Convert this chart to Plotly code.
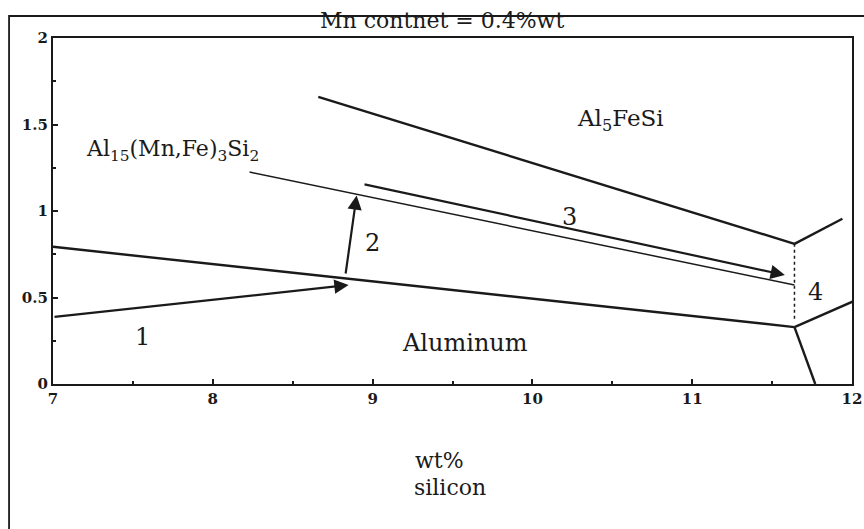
import plotly.graph_objects as go

# Phase boundary lines (wt% Si, wt% Fe)
al5_boundary_x = [8.66, 11.64]
al5_boundary_y = [1.66, 0.81]
al5_branch_x = [11.64, 11.94]
al5_branch_y = [0.81, 0.955]
al15_boundary_x = [8.23, 11.64]
al15_boundary_y = [1.225, 0.572]
liquidus_x = [7.0, 11.64]
liquidus_y = [0.793, 0.329]
eutectic_right_x = [11.64, 12.07]
eutectic_right_y = [0.329, 0.503]
eutectic_down_x = [11.64, 11.77]
eutectic_down_y = [0.329, 0.0]
dotted_x = [11.64, 11.64]
dotted_y = [0.81, 0.37]

# Solidification path arrows: (start x, start y, end x, end y)
arrow1 = (7.0, 0.387, 8.85, 0.572)
arrow2 = (8.83, 0.63, 8.90, 1.09)
arrow3 = (8.94, 1.156, 11.58, 0.63)

# Region / step labels: (x, y, text, size)
labels = [
    (7.745, 1.35, "Al<sub>15</sub>(Mn,Fe)<sub>3</sub>Si<sub>2</sub>", 22),
    (10.55, 1.526, "Al<sub>5</sub>FeSi", 23),
    (7.56, 0.272, "1", 24),
    (9.0, 0.815, "2", 24),
    (10.235, 0.965, "3", 24),
    (11.77, 0.532, "4", 24),
    (9.58, 0.237, "Aluminum", 24),
]

x_ticks = [7, 8, 9, 10, 11, 12]
y_ticks = [0, 0.5, 1, 1.5, 2]
y_tick_text = ["0", "0.5", "1", "1.5", "2"]

title_text = "Mn contnet = 0.4%wt"
xlabel_lines = ["wt%", "silicon"]

SERIF = "DejaVu Serif"
INK = "#1a1a1a"
fig = go.Figure()

def add_line(xs, ys, width=2.4, dash="solid"):
    fig.add_trace(go.Scatter(x=xs, y=ys, mode="lines",
                             line=dict(color=INK, width=width, dash=dash),
                             showlegend=False, hoverinfo="skip"))

add_line(al5_boundary_x, al5_boundary_y)
add_line(al5_branch_x, al5_branch_y)
add_line(al15_boundary_x, al15_boundary_y, width=1.5)
add_line(liquidus_x, liquidus_y)
add_line(eutectic_right_x, eutectic_right_y)
add_line(eutectic_down_x, eutectic_down_y)
add_line(dotted_x, dotted_y, width=1.5, dash="dot")

for (x0, y0, x1, y1) in (arrow1, arrow2, arrow3):
    fig.add_annotation(x=x1, y=y1, ax=x0, ay=y0, xref="x", yref="y",
                       axref="x", ayref="y", showarrow=True, text="",
                       arrowhead=2, arrowsize=1.3, arrowwidth=2.2,
                       arrowcolor=INK, standoff=0)

for (x, y, t, s) in labels:
    fig.add_annotation(x=x, y=y, xref="x", yref="y", text=t, showarrow=False,
                       xanchor="center", yanchor="middle",
                       font=dict(family=SERIF, size=s, color=INK))

fig.add_annotation(x=0.487, y=1.052, xref="paper", yref="paper",
                   text=title_text, showarrow=False, xanchor="center", yanchor="middle",
                   font=dict(family=SERIF, size=22, color=INK))
fig.add_annotation(x=0.484, y=-0.22, xref="paper", yref="paper",
                   text=xlabel_lines[0], showarrow=False, xanchor="center", yanchor="middle",
                   font=dict(family=SERIF, size=22, color=INK))
fig.add_annotation(x=0.497, y=-0.30, xref="paper", yref="paper",
                   text=xlabel_lines[1], showarrow=False, xanchor="center", yanchor="middle",
                   font=dict(family=SERIF, size=22, color=INK))

# outer frame of the figure
fig.add_shape(type="rect", xref="paper", yref="paper",
              x0=-0.055, y0=-0.45, x1=1.03, y1=1.0636,
              line=dict(color=INK, width=1.8), layer="below")

axis_common = dict(showgrid=False, zeroline=False, showline=True, mirror=True,
                   linecolor=INK, linewidth=2.2, ticks="inside", automargin=False,
                   ticklen=5, tickcolor=INK, tickwidth=1.5,
                   tickfont=dict(family=SERIF, size=15, color=INK, weight="bold"))

fig.update_xaxes(range=[7, 12], tickvals=x_ticks, ticktext=[str(v) for v in x_ticks],
                 minor=dict(dtick=0.5, ticks="inside", ticklen=3, tickcolor=INK),
                 **axis_common)
fig.update_yaxes(range=[0, 2], tickvals=y_ticks, ticktext=y_tick_text,
                 minor=dict(dtick=0.25, ticks="inside", ticklen=3, tickcolor=INK),
                 **axis_common)

fig.update_layout(width=864, height=529, margin=dict(l=53, r=12, t=38, b=145),
                  plot_bgcolor="white", paper_bgcolor="white")

fig.write_html("out.html")
